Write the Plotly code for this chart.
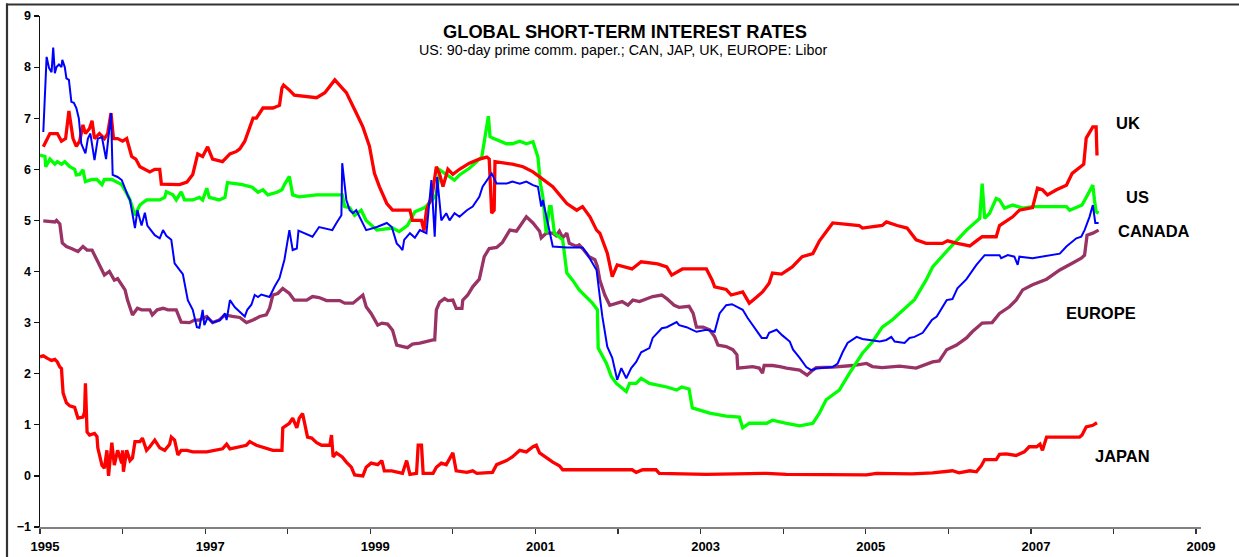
import plotly.graph_objects as go

# ---------------- data (decimal years, percent) ----------------
uk_t = [1995.04,1995.12,1995.21,1995.26,1995.31,1995.35,1995.40,1995.44,1995.48,1995.52,1995.55,1995.60,1995.63,1995.66,1995.72,1995.78,1995.82,1995.86,1995.89,1995.94,1996.00,1996.05,1996.11,1996.16,1996.21,1996.33,1996.39,1996.45,1996.47,1996.69,1996.78,1996.85,1996.91,1996.97,1997.03,1997.09,1997.21,1997.30,1997.38,1997.42,1997.48,1997.51,1997.58,1997.62,1997.70,1997.82,1997.90,1997.93,1997.95,1998.02,1998.08,1998.35,1998.45,1998.57,1998.66,1998.71,1998.83,1998.91,1998.99,1999.05,1999.11,1999.20,1999.27,1999.48,1999.51,1999.62,1999.65,1999.68,1999.75,1999.80,1999.84,1999.88,1999.94,2000.00,2000.08,2000.20,2000.32,2000.41,2000.44,2000.47,2000.50,2000.51,2000.72,2000.85,2000.97,2001.05,2001.21,2001.38,2001.50,2001.57,2001.66,2001.74,2001.78,2001.87,2001.93,2001.99,2002.17,2002.28,2002.48,2002.59,2002.65,2002.78,2003.07,2003.14,2003.17,2003.31,2003.37,2003.51,2003.59,2003.68,2003.75,2003.83,2003.87,2003.98,2004.11,2004.23,2004.36,2004.44,2004.51,2004.60,2004.92,2004.96,2005.20,2005.25,2005.38,2005.50,2005.61,2005.73,2005.93,2005.99,2006.11,2006.26,2006.34,2006.41,2006.58,2006.62,2006.78,2006.86,2007.02,2007.08,2007.14,2007.20,2007.31,2007.43,2007.50,2007.62,2007.64,2007.67,2007.73,2007.75,2007.79,2007.80,2007.82]
uk_v = [6.44,6.70,6.70,6.55,6.60,7.14,6.60,6.45,6.55,6.87,6.70,6.80,6.95,6.60,6.70,6.60,6.70,7.10,6.60,6.60,6.55,6.60,6.25,6.20,6.05,5.95,6.00,6.00,5.71,5.70,5.75,5.90,6.30,6.25,6.44,6.20,6.15,6.30,6.35,6.40,6.55,6.70,7.00,7.00,7.20,7.20,7.25,7.59,7.65,7.55,7.45,7.40,7.50,7.75,7.60,7.50,7.10,6.83,6.45,5.92,5.66,5.33,5.20,5.20,5.00,5.00,4.80,5.20,5.50,6.05,5.90,5.66,6.00,5.90,6.00,6.12,6.20,6.24,6.20,5.14,5.20,6.15,6.10,6.05,5.95,5.85,5.66,5.33,5.20,5.27,5.07,4.81,4.75,4.36,3.90,4.13,4.05,4.19,4.15,4.09,3.93,4.05,4.05,3.83,3.70,3.65,3.54,3.60,3.38,3.50,3.60,3.77,3.97,3.95,4.09,4.29,4.35,4.60,4.75,4.95,4.90,4.85,4.90,4.97,4.90,4.85,4.62,4.55,4.55,4.60,4.55,4.50,4.60,4.68,4.68,4.90,5.07,5.20,5.25,5.63,5.60,5.50,5.60,5.69,5.92,6.07,6.10,6.61,6.77,6.83,6.83,6.30,6.30]

us_t = [1995.00,1995.06,1995.07,1995.12,1995.18,1995.21,1995.26,1995.30,1995.36,1995.42,1995.44,1995.48,1995.52,1995.55,1995.63,1995.69,1995.75,1995.78,1995.87,1995.93,1995.99,1996.05,1996.09,1996.15,1996.21,1996.29,1996.45,1996.51,1996.53,1996.61,1996.65,1996.71,1996.75,1996.85,1996.93,1996.97,1997.02,1997.05,1997.17,1997.24,1997.27,1997.45,1997.57,1997.64,1997.70,1997.76,1997.87,1997.93,1997.96,1998.02,1998.06,1998.14,1998.35,1998.66,1998.69,1998.75,1998.81,1998.89,1998.95,1999.08,1999.27,1999.35,1999.45,1999.54,1999.66,1999.75,1999.80,1999.84,2000.02,2000.08,2000.20,2000.29,2000.35,2000.43,2000.45,2000.48,2000.65,2000.72,2000.81,2000.89,2000.97,2001.03,2001.06,2001.09,2001.12,2001.13,2001.17,2001.19,2001.23,2001.33,2001.38,2001.45,2001.53,2001.69,2001.75,2001.76,2001.86,2001.92,2001.98,2002.10,2002.14,2002.22,2002.28,2002.38,2002.59,2002.71,2002.77,2002.86,2002.90,2003.11,2003.31,2003.47,2003.51,2003.59,2003.80,2003.87,2004.04,2004.20,2004.36,2004.44,2004.52,2004.68,2004.80,2004.96,2005.08,2005.20,2005.32,2005.41,2005.59,2005.73,2005.81,2006.01,2006.22,2006.38,2006.41,2006.44,2006.50,2006.58,2006.62,2006.68,2006.78,2006.90,2007.02,2007.43,2007.47,2007.62,2007.67,2007.75,2007.77,2007.79,2007.82]
us_v = [6.28,6.25,6.05,6.20,6.10,6.15,6.10,6.15,6.05,6.00,5.89,5.90,5.99,5.76,5.80,5.80,5.70,5.80,5.80,5.75,5.70,5.53,5.40,5.10,5.30,5.40,5.40,5.45,5.56,5.50,5.40,5.56,5.40,5.40,5.45,5.40,5.63,5.45,5.40,5.45,5.74,5.70,5.65,5.55,5.60,5.50,5.55,5.60,5.70,5.86,5.50,5.46,5.50,5.50,5.27,5.25,5.10,5.20,5.00,4.81,4.85,4.78,4.90,5.17,5.25,5.40,5.50,5.99,5.79,5.89,6.02,6.15,6.24,7.04,6.64,6.61,6.50,6.50,6.55,6.50,6.54,6.24,5.72,5.46,4.81,4.75,5.27,5.27,4.75,4.62,3.97,3.83,3.64,3.38,3.25,2.50,2.20,1.94,1.81,1.65,1.81,1.81,1.91,1.81,1.74,1.68,1.74,1.70,1.33,1.23,1.17,1.15,0.94,1.03,1.03,1.09,1.03,0.98,1.03,1.23,1.49,1.68,2.00,2.40,2.62,2.91,3.05,3.18,3.45,3.83,4.09,4.45,4.81,5.04,5.72,5.04,5.14,5.43,5.40,5.24,5.30,5.24,5.27,5.27,5.20,5.30,5.46,5.69,5.40,5.17,5.14]

ca_t = [1995.04,1995.08,1995.11,1995.14,1995.16,1995.18,1995.20,1995.23,1995.26,1995.27,1995.30,1995.32,1995.35,1995.38,1995.41,1995.44,1995.47,1995.50,1995.55,1995.58,1995.61,1995.66,1995.70,1995.75,1995.80,1995.82,1995.86,1995.88,1995.94,1995.99,1996.03,1996.06,1996.09,1996.15,1996.18,1996.23,1996.27,1996.30,1996.39,1996.45,1996.49,1996.53,1996.59,1996.63,1996.69,1996.73,1996.79,1996.85,1996.90,1996.93,1996.97,1996.99,1997.03,1997.09,1997.18,1997.24,1997.26,1997.30,1997.36,1997.42,1997.48,1997.51,1997.56,1997.60,1997.64,1997.68,1997.78,1997.84,1997.90,1997.96,1998.02,1998.06,1998.11,1998.13,1998.30,1998.38,1998.54,1998.59,1998.65,1998.66,1998.71,1998.75,1998.79,1998.83,1998.89,1998.95,1999.08,1999.20,1999.26,1999.32,1999.35,1999.39,1999.41,1999.48,1999.54,1999.60,1999.68,1999.74,1999.78,1999.81,1999.86,1999.92,1999.96,2000.02,2000.08,2000.17,2000.24,2000.32,2000.36,2000.41,2000.47,2000.53,2000.65,2000.72,2000.81,2000.89,2000.97,2001.03,2001.07,2001.09,2001.13,2001.21,2001.38,2001.57,2001.62,2001.69,2001.74,2001.78,2001.81,2001.87,2001.93,2001.99,2002.04,2002.10,2002.16,2002.22,2002.28,2002.38,2002.42,2002.53,2002.59,2002.71,2002.74,2002.83,2002.95,2003.07,2003.17,2003.23,2003.31,2003.38,2003.43,2003.51,2003.57,2003.65,2003.74,2003.80,2003.83,2003.92,2003.99,2004.08,2004.12,2004.20,2004.28,2004.34,2004.40,2004.60,2004.66,2004.72,2004.78,2004.89,2004.96,2005.17,2005.25,2005.31,2005.35,2005.47,2005.53,2005.59,2005.69,2005.80,2005.86,2005.98,2006.05,2006.11,2006.22,2006.34,2006.44,2006.62,2006.64,2006.72,2006.80,2006.84,2006.86,2007.02,2007.23,2007.35,2007.43,2007.55,2007.61,2007.65,2007.71,2007.75,2007.78,2007.82]
ca_v = [6.73,8.20,7.98,7.90,8.38,7.88,8.00,8.05,8.00,8.14,8.00,7.78,7.75,7.32,7.30,7.20,7.00,6.50,6.31,6.60,6.70,6.18,6.60,6.63,6.20,6.50,7.10,5.89,5.85,5.79,5.60,5.50,5.40,4.85,5.20,4.90,5.15,4.90,4.71,4.65,4.81,4.70,4.62,4.16,4.03,3.95,3.44,3.25,2.91,2.90,3.25,2.95,3.10,3.00,3.05,3.18,3.05,3.44,3.30,3.20,3.12,3.25,3.35,3.54,3.50,3.55,3.50,3.70,3.87,4.23,4.81,4.42,4.45,4.80,4.68,4.87,4.81,4.95,5.10,6.12,5.40,5.20,5.14,5.20,5.00,4.81,4.87,4.95,4.87,4.55,4.50,4.42,4.62,4.75,4.66,4.81,4.75,5.79,4.68,5.85,5.00,5.14,5.00,5.14,5.07,5.20,5.27,5.46,5.66,5.79,5.92,5.72,5.72,5.76,5.72,5.76,5.69,5.66,5.27,5.40,5.10,4.49,4.47,4.47,4.36,4.16,4.03,3.50,3.12,2.53,2.31,1.88,2.11,1.91,2.11,2.23,2.42,2.50,2.70,2.89,2.91,3.01,2.95,2.91,2.82,2.86,2.82,3.18,3.34,3.36,3.32,3.25,3.09,2.91,2.70,2.70,2.80,2.86,2.75,2.63,2.47,2.31,2.13,2.07,2.10,2.13,2.20,2.42,2.60,2.72,2.68,2.63,2.66,2.72,2.63,2.60,2.70,2.72,2.80,3.05,3.12,3.44,3.46,3.67,3.85,4.13,4.32,4.32,4.26,4.32,4.29,4.13,4.29,4.26,4.32,4.35,4.49,4.65,4.68,4.81,5.07,5.30,4.95,4.95]

eu_t = [1995.04,1995.18,1995.20,1995.24,1995.27,1995.32,1995.38,1995.42,1995.46,1995.52,1995.57,1995.63,1995.69,1995.72,1995.78,1995.84,1995.90,1995.94,1995.99,1996.03,1996.06,1996.11,1996.12,1996.18,1996.23,1996.33,1996.36,1996.42,1996.49,1996.55,1996.65,1996.71,1996.81,1996.87,1996.93,1997.02,1997.09,1997.17,1997.24,1997.33,1997.42,1997.50,1997.58,1997.66,1997.74,1997.78,1997.82,1997.88,1997.94,1998.02,1998.08,1998.23,1998.30,1998.38,1998.47,1998.63,1998.69,1998.79,1998.83,1998.91,1998.95,1999.01,1999.09,1999.14,1999.21,1999.27,1999.32,1999.38,1999.45,1999.51,1999.60,1999.76,1999.78,1999.80,1999.84,1999.90,1999.94,2000.00,2000.04,2000.11,2000.12,2000.18,2000.24,2000.32,2000.38,2000.44,2000.53,2000.60,2000.69,2000.77,2000.83,2000.89,2000.97,2001.05,2001.07,2001.13,2001.21,2001.25,2001.29,2001.33,2001.38,2001.41,2001.50,2001.53,2001.57,2001.62,2001.65,2001.72,2001.75,2001.78,2001.84,2001.90,2001.98,2002.05,2002.12,2002.18,2002.26,2002.42,2002.53,2002.59,2002.68,2002.74,2002.86,2002.91,2002.95,2003.03,2003.11,2003.17,2003.21,2003.31,2003.39,2003.44,2003.45,2003.56,2003.63,2003.71,2003.75,2003.77,2003.87,2003.96,2004.04,2004.20,2004.29,2004.36,2004.40,2004.60,2004.84,2005.01,2005.08,2005.20,2005.32,2005.41,2005.61,2005.81,2005.89,2005.98,2006.10,2006.22,2006.29,2006.41,2006.53,2006.62,2006.74,2006.82,2006.90,2007.02,2007.19,2007.35,2007.50,2007.61,2007.65,2007.68,2007.75,2007.82]
eu_v = [4.99,4.97,5.00,4.93,4.56,4.49,4.45,4.42,4.39,4.49,4.42,4.42,4.23,4.13,3.93,4.00,3.83,3.86,3.74,3.64,3.44,3.18,3.15,3.28,3.25,3.25,3.15,3.25,3.28,3.25,3.25,3.01,3.00,3.05,3.05,3.12,3.00,3.05,3.15,3.12,3.10,3.00,3.05,3.12,3.15,3.28,3.54,3.57,3.67,3.57,3.44,3.44,3.51,3.49,3.43,3.43,3.38,3.38,3.44,3.54,3.31,3.18,2.95,2.99,2.97,2.85,2.56,2.54,2.51,2.58,2.60,2.66,2.66,3.25,3.40,3.47,3.43,3.44,3.28,3.28,3.44,3.54,3.70,3.85,4.29,4.45,4.47,4.57,4.81,4.79,4.94,5.07,4.95,4.79,4.66,4.75,4.75,4.70,4.79,4.66,4.75,4.55,4.49,4.52,4.45,4.36,4.29,4.23,4.10,3.83,3.54,3.34,3.38,3.41,3.34,3.44,3.41,3.51,3.54,3.47,3.34,3.30,3.32,3.18,2.91,2.91,2.86,2.72,2.56,2.53,2.47,2.37,2.11,2.13,2.14,2.11,2.01,2.16,2.16,2.14,2.11,2.07,1.97,2.07,2.12,2.13,2.16,2.20,2.14,2.12,2.14,2.15,2.11,2.23,2.25,2.47,2.56,2.70,2.82,2.99,3.00,3.18,3.31,3.44,3.64,3.74,3.85,4.03,4.16,4.26,4.32,4.71,4.75,4.81]

jp_t = [1995.00,1995.04,1995.09,1995.14,1995.18,1995.21,1995.24,1995.26,1995.27,1995.28,1995.32,1995.36,1995.42,1995.46,1995.52,1995.54,1995.55,1995.57,1995.60,1995.66,1995.69,1995.70,1995.75,1995.78,1995.81,1995.83,1995.87,1995.90,1995.94,1995.99,1996.00,1996.01,1996.05,1996.09,1996.12,1996.15,1996.21,1996.24,1996.29,1996.33,1996.39,1996.45,1996.51,1996.57,1996.59,1996.63,1996.67,1996.71,1996.78,1996.85,1997.02,1997.14,1997.21,1997.26,1997.30,1997.50,1997.54,1997.62,1997.74,1997.82,1997.93,1997.94,1998.02,1998.06,1998.11,1998.14,1998.18,1998.24,1998.29,1998.35,1998.41,1998.51,1998.53,1998.55,1998.59,1998.66,1998.71,1998.77,1998.81,1998.91,1998.95,1999.01,1999.09,1999.14,1999.17,1999.26,1999.39,1999.44,1999.48,1999.56,1999.58,1999.62,1999.64,1999.76,1999.80,1999.86,1999.92,2000.00,2000.04,2000.17,2000.24,2000.29,2000.48,2000.53,2000.65,2000.72,2000.81,2000.89,2000.97,2001.01,2001.05,2001.13,2001.21,2001.29,2001.33,2002.17,2002.22,2002.30,2002.46,2002.50,2003.07,2003.80,2004.04,2005.01,2005.13,2005.56,2005.81,2006.05,2006.13,2006.26,2006.34,2006.40,2006.44,2006.58,2006.62,2006.70,2006.82,2006.92,2006.98,2007.07,2007.11,2007.14,2007.19,2007.59,2007.62,2007.67,2007.75,2007.80]
jp_v = [2.33,2.35,2.30,2.26,2.28,2.23,2.13,2.10,1.85,1.62,1.43,1.37,1.34,1.13,1.15,1.25,1.81,0.86,0.80,0.83,0.77,0.55,0.21,0.15,0.50,0.00,0.65,0.21,0.50,0.25,0.50,0.08,0.50,0.30,0.35,0.67,0.67,0.74,0.50,0.57,0.70,0.55,0.50,0.62,0.76,0.70,0.41,0.50,0.50,0.47,0.47,0.50,0.53,0.62,0.53,0.60,0.67,0.60,0.53,0.50,0.50,0.94,1.03,1.13,0.94,1.13,1.22,0.76,0.74,0.65,0.60,0.60,0.80,0.37,0.45,0.37,0.27,0.17,0.02,0.00,0.17,0.25,0.22,0.30,0.10,0.10,0.05,0.30,0.03,0.05,0.60,0.60,0.05,0.05,0.17,0.25,0.22,0.45,0.10,0.07,0.10,0.05,0.07,0.22,0.30,0.37,0.50,0.47,0.57,0.60,0.45,0.35,0.27,0.20,0.12,0.12,0.07,0.12,0.12,0.05,0.03,0.05,0.03,0.02,0.05,0.04,0.06,0.10,0.06,0.10,0.08,0.20,0.32,0.32,0.42,0.43,0.40,0.47,0.57,0.57,0.62,0.50,0.76,0.76,0.80,0.96,0.99,1.04]

year_ticks = list(range(1995, 2010))
year_labels = [str(y) if y % 2 == 1 else "" for y in year_ticks]
y_ticks = list(range(-1, 10))

title_text = "GLOBAL SHORT-TERM INTEREST RATES"
subtitle_text = "US: 90-day prime comm. paper.; CAN, JAP, UK, EUROPE: Libor"
series_labels = ["UK", "US", "CANADA", "EUROPE", "JAPAN"]

# ---------------- figure ----------------
FONT = "Liberation Sans, Arial, sans-serif"
fig = go.Figure()
fig.add_trace(go.Scatter(x=eu_t, y=eu_v, mode="lines", name="EUROPE",
                         line=dict(color="#993366", width=3.3)))
fig.add_trace(go.Scatter(x=us_t, y=us_v, mode="lines", name="US",
                         line=dict(color="#00FF00", width=3.3)))
fig.add_trace(go.Scatter(x=uk_t, y=uk_v, mode="lines", name="UK",
                         line=dict(color="#FF0000", width=3.3)))
fig.add_trace(go.Scatter(x=ca_t, y=ca_v, mode="lines", name="CANADA",
                         line=dict(color="#0000FF", width=2)))
fig.add_trace(go.Scatter(x=jp_t, y=jp_v, mode="lines", name="JAPAN",
                         line=dict(color="#FF0000", width=3.3)))

# body margin is removed by post_script, so figure pixels == screen pixels
W, H = 1239, 557
L, T = 40, 16
R = W - 1201
B = H - 527
pw, ph = W - L - R, H - T - B

def px(x):
    return (x - L) / pw

def py(y):
    return (H - B - y) / ph

annotations = [
    dict(text="<b>" + title_text + "</b>", x=px(625), y=py(31), font=dict(size=18.3, color="black")),
    dict(text=subtitle_text, x=px(623), y=py(50), font=dict(size=14.3, color="black")),
]
label_pos = [(1128, 123), (1137, 197), (1154, 231), (1101, 313), (1122, 456)]
for lab, (lx, ly) in zip(series_labels, label_pos):
    annotations.append(dict(text="<b>" + lab + "</b>", x=px(lx), y=py(ly),
                            font=dict(size=16.5, color="black")))
for a in annotations:
    a.update(xref="paper", yref="paper", showarrow=False, xanchor="center", yanchor="middle")

frame = dict(color="#333333", width=2.2)
shapes = [
    dict(type="line", xref="paper", yref="paper", x0=px(7), x1=px(7), y0=py(560), y1=py(3.5), line=frame),
    dict(type="line", xref="paper", yref="paper", x0=px(6), x1=px(1245), y0=py(4.5), y1=py(4.5), line=frame),
]

fig.update_layout(
    template="none",
    width=W, height=H,
    margin=dict(l=L, r=R, t=T, b=B, pad=0, autoexpand=False),
    paper_bgcolor="white", plot_bgcolor="white",
    showlegend=False,
    hovermode=False,
    font=dict(family=FONT, color="black"),
    annotations=annotations,
    shapes=shapes,
    xaxis=dict(range=[1995, 2009.06], tickmode="array", tickvals=year_ticks, ticktext=year_labels,
               automargin=False,
               showline=True, linecolor="#808080", linewidth=1.8,
               ticks="outside", ticklen=5, tickwidth=1.2, tickcolor="#333333",
               showgrid=False, zeroline=False,
               tickfont=dict(family=FONT, size=13, weight="bold", color="black"),
               ticklabelshift=5, ticklabelstandoff=2),
    yaxis=dict(range=[-1, 9], tickmode="array", tickvals=y_ticks,
               automargin=False,
               showline=True, linecolor="#111111", linewidth=1.5,
               ticks="outside", ticklen=5, tickwidth=1.2, tickcolor="#111111",
               showgrid=False, zeroline=False,
               tickfont=dict(family=FONT, size=12.5, weight="bold", color="black")),
)

fig.write_html("out.html", config={"displayModeBar": False, "staticPlot": True},
               post_script="document.body.style.margin='0px';")
